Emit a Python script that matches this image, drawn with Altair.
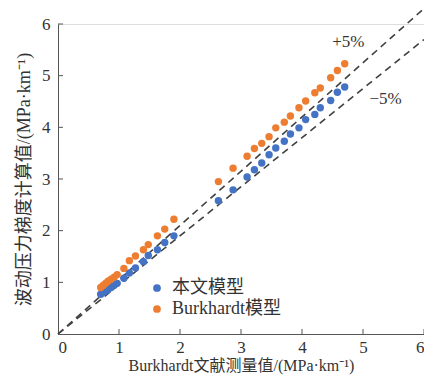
import altair as alt
import pandas as pd

# Measured (Burkhardt) values, x
x_vals = [0.70, 0.74, 0.78, 0.82, 0.87, 0.92, 0.97, 1.08, 1.17, 1.27, 1.40, 1.48, 1.63, 1.75, 1.90,
          2.63, 2.87, 3.10, 3.22, 3.34, 3.46, 3.57, 3.71, 3.81, 3.95, 4.06, 4.21, 4.30, 4.47, 4.58, 4.70]
# This paper's model
model_vals = [0.77, 0.80, 0.83, 0.86, 0.90, 0.95, 0.98, 1.08, 1.18, 1.28, 1.40, 1.52, 1.63, 1.77, 1.90,
              2.58, 2.79, 3.04, 3.18, 3.31, 3.47, 3.60, 3.73, 3.87, 3.99, 4.15, 4.25, 4.38, 4.52, 4.68, 4.78]
# Burkhardt model
burk_vals = [0.90, 0.94, 0.98, 1.02, 1.06, 1.10, 1.15, 1.27, 1.42, 1.51, 1.63, 1.73, 1.90, 2.03, 2.22,
             2.95, 3.21, 3.44, 3.59, 3.69, 3.82, 3.99, 4.10, 4.22, 4.38, 4.51, 4.67, 4.76, 4.96, 5.10, 5.23]

series_names = ["本文模型", "Burkhardt模型"]
series_colors = ["#4472C4", "#ED7D31"]

line_x = [0, 6]
ratios = [1.05, 0.95]
ann_text = ["+5%", "−5%"]
ann_x = [4.76, 5.37]
ann_y = [5.65, 4.54]
ticks = [0, 1, 2, 3, 4, 5, 6]

FONT = "Liberation Serif, Noto Sans CJK SC"
TXT = "#333333"

pts = pd.DataFrame(
    [{"x": x, "y": y, "s": series_names[0]} for x, y in zip(x_vals, model_vals)]
    + [{"x": x, "y": y, "s": series_names[1]} for x, y in zip(x_vals, burk_vals)]
)
lines = pd.DataFrame(
    [{"x": lx, "y": lx * r, "g": str(r)} for r in ratios for lx in line_x]
)
ann = pd.DataFrame({"x": ann_x, "y": ann_y, "t": ann_text})
tk = pd.DataFrame({"v": ticks[1:]})

xs = alt.Scale(domain=[0, 6], nice=False)
ys = alt.Scale(domain=[0, 6], nice=False)

W, H = 366, 310

xaxis = alt.Axis(values=ticks, format="d", title="Burkhardt文献测量值/(MPa·km⁻¹)",
                 grid=False, ticks=False, labelPadding=5, domainColor="#555555",
                 labelFont=FONT, labelFontSize=17, labelColor=TXT, titleFont=FONT,
                 titleFontSize=16, titleFontWeight="normal", titleColor=TXT, titlePadding=2)
yaxis = alt.Axis(values=ticks, format="d", title="波动压力梯度计算值/(MPa·km⁻¹)",
                 grid=False, ticks=False, labelPadding=8, domainColor="#555555",
                 labelFont=FONT, labelFontSize=17, labelColor=TXT, titleFont=FONT,
                 titleFontSize=18, titleFontWeight="normal", titleColor=TXT, titlePadding=8)

ref = alt.Chart(lines).mark_line(color="#404040", strokeDash=[7, 5], strokeWidth=1.6, clip=False).encode(
    x=alt.X("x:Q", scale=xs, axis=xaxis),
    y=alt.Y("y:Q", scale=ys, axis=yaxis),
    detail="g:N",
)

dots = alt.Chart(pts).mark_circle(size=55, opacity=1).encode(
    x=alt.X("x:Q", scale=xs),
    y=alt.Y("y:Q", scale=ys),
    color=alt.Color("s:N", scale=alt.Scale(domain=series_names, range=series_colors),
                    sort=series_names,
                    legend=alt.Legend(title=None, orient="none", legendX=90, legendY=255,
                                      labelFont=FONT, labelFontSize=18, labelColor=TXT,
                                      symbolType="circle", symbolSize=60, symbolStrokeWidth=0,
                                      labelOffset=6, rowPadding=3)),
)

labels = alt.Chart(ann).mark_text(font=FONT, fontSize=17, color=TXT).encode(
    x=alt.X("x:Q", scale=xs), y=alt.Y("y:Q", scale=ys), text="t:N"
)

xt = alt.Chart(tk).mark_rule(color="#555555").encode(
    x=alt.X("v:Q", scale=xs), y=alt.value(H), y2=alt.value(H - 5)
)
yt = alt.Chart(tk).mark_rule(color="#555555").encode(
    y=alt.Y("v:Q", scale=ys), x=alt.value(0), x2=alt.value(5)
)

chart = alt.layer(ref, xt, yt, dots, labels).properties(
    width=W, height=H,
    autosize=alt.AutoSizeParams(type="none"),
    padding={"left": 50, "top": 16, "right": 0, "bottom": 44},
).configure_view(stroke=None).configure(background="white")

chart.save("out.html", embed_options={"renderer": "svg", "actions": False})
